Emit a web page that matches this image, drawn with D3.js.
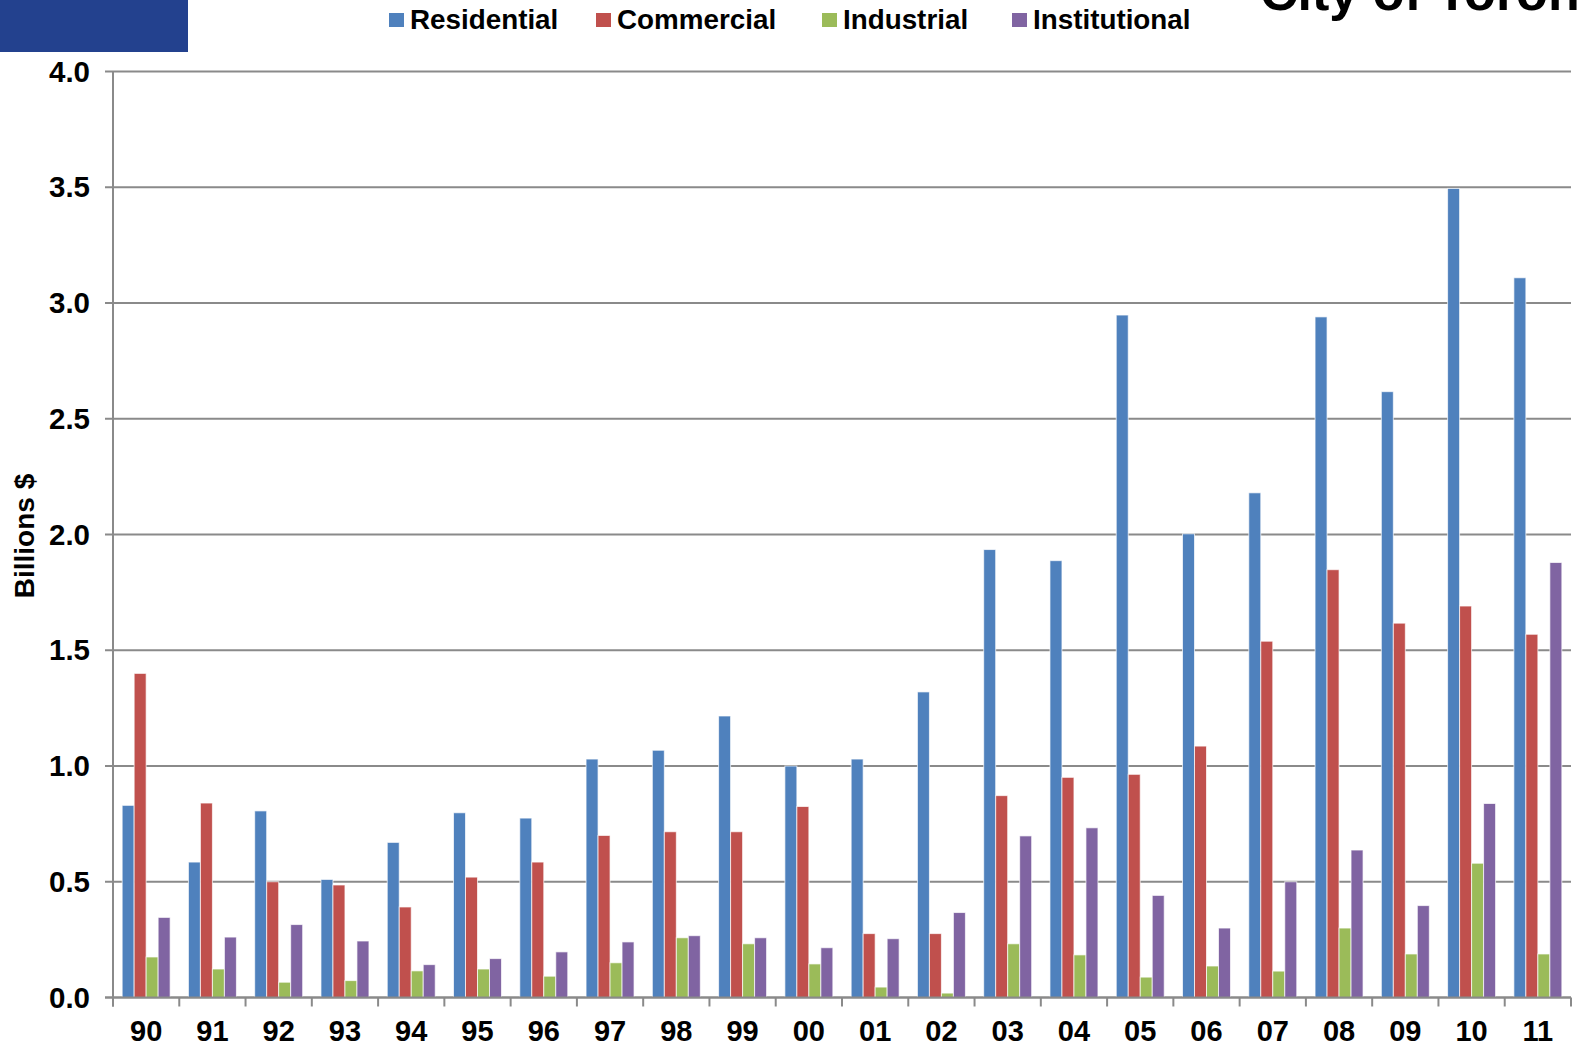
<!DOCTYPE html>
<html>
<head>
<meta charset="utf-8">
<script src="https://cdnjs.cloudflare.com/ajax/libs/d3/7.8.5/d3.min.js"></script>
<style>
	body { margin: 0; background: #fff; overflow: hidden; }
	svg { display: block; }
	text { font-family: "Liberation Sans", Arial, Helvetica, sans-serif; font-weight: bold; fill: #000; }
</style>
</head>
<body>
<script>
(function(){
	//categories (years) and series
	var years = ["90","91","92","93","94","95","96","97","98","99","00","01","02","03","04","05","06","07","08","09","10","11"];
	var seriesNames = ["Residential", "Commercial", "Industrial", "Institutional"];

	//values in billions $
	var residential = [0.83, 0.585, 0.806, 0.51, 0.67, 0.798, 0.775, 1.03, 1.068, 1.216, 1.0, 1.03, 1.32, 1.935, 1.887, 2.948, 2.003, 2.18, 2.94, 2.617, 3.495, 3.109];
	var commercial = [1.40, 0.84, 0.50, 0.486, 0.391, 0.52, 0.585, 0.70, 0.716, 0.716, 0.825, 0.276, 0.276, 0.872, 0.951, 0.964, 1.086, 1.539, 1.848, 1.617, 1.691, 1.569];
	var industrial = [0.175, 0.123, 0.066, 0.073, 0.115, 0.123, 0.092, 0.15, 0.258, 0.232, 0.145, 0.045, 0.019, 0.232, 0.184, 0.088, 0.136, 0.114, 0.30, 0.188, 0.58, 0.188];
	var institutional = [0.346, 0.261, 0.315, 0.244, 0.142, 0.168, 0.197, 0.24, 0.267, 0.258, 0.215, 0.254, 0.367, 0.698, 0.733, 0.441, 0.30, 0.50, 0.637, 0.397, 0.838, 1.879];

	var yTicks = [0, 0.5, 1.0, 1.5, 2.0, 2.5, 3.0, 3.5, 4.0];

	var colors = ["#4F81BD", "#C0504D", "#9BBB59", "#8064A2"];

	//frame
	var width = 1581,
		height = 1044,
		plotLeft = 113,
		plotRight = 1571,
		plotTop = 71.5,
		plotBottom = 997.5;

	var svg = d3.select("body")
		.append("svg")
		.attr("width", width)
		.attr("height", height);

	//header block and cut-off title
	svg.append("rect")
		.attr("x", 0)
		.attr("y", 0)
		.attr("width", 188)
		.attr("height", 52)
		.style("fill", "#23418E");

	svg.append("text")
		.attr("x", 1260)
		.attr("y", 10)
		.style("font-size", "52px")
		.text("City of Toronto");

	var yScale = d3.scaleLinear()
		.domain([0, 4])
		.range([plotBottom, plotTop]);

	var x0 = d3.scaleBand()
		.domain(years)
		.range([plotLeft, plotRight])
		.paddingInner(0.276)
		.paddingOuter(0.138);

	var x1 = d3.scaleBand()
		.domain(seriesNames)
		.range([0, x0.bandwidth()]);

	//gridlines + y tick labels
	var grid = svg.append("g").attr("class", "grid");
	grid.selectAll("line")
		.data(yTicks)
		.enter()
		.append("line")
		.attr("x1", plotLeft - 8)
		.attr("x2", plotRight)
		.attr("y1", function(d){ return yScale(d); })
		.attr("y2", function(d){ return yScale(d); })
		.style("stroke", "#8a8a8a")
		.style("stroke-width", 2);

	grid.selectAll("text")
		.data(yTicks)
		.enter()
		.append("text")
		.attr("x", 90)
		.attr("y", function(d){ return yScale(d) + 10; })
		.attr("text-anchor", "end")
		.style("font-size", "29.5px")
		.text(d3.format(".1f"));

	//bars
	var table = years.map(function(y, i){
		return { year: y, values: [residential[i], commercial[i], industrial[i], institutional[i]] };
	});

	var groups = svg.selectAll(".yearGroup")
		.data(table)
		.enter()
		.append("g")
		.attr("class", "yearGroup")
		.attr("transform", function(d){ return "translate(" + x0(d.year) + ",0)"; });

	groups.selectAll("rect")
		.data(function(d){
			return d.values.map(function(v, j){ return { name: seriesNames[j], value: v, idx: j }; });
		})
		.enter()
		.append("rect")
		.attr("x", function(d){ return x1(d.name); })
		.attr("width", x1.bandwidth())
		.attr("y", function(d){ return yScale(d.value); })
		.attr("height", function(d){ return plotBottom - yScale(d.value); })
		.style("fill", function(d){ return colors[d.idx]; })
		.style("stroke", "rgba(255,255,255,0.7)")
		.style("stroke-width", 1);

	//axes lines
	svg.append("line")
		.attr("x1", plotLeft)
		.attr("x2", plotLeft)
		.attr("y1", plotTop)
		.attr("y2", plotBottom + 9)
		.style("stroke", "#8a8a8a")
		.style("stroke-width", 2);

	svg.append("line")
		.attr("x1", plotLeft - 8)
		.attr("x2", plotRight)
		.attr("y1", plotBottom)
		.attr("y2", plotBottom)
		.style("stroke", "#8a8a8a")
		.style("stroke-width", 2);

	//category boundary ticks
	var step = x0.step();
	svg.selectAll(".xTick")
		.data(d3.range(years.length + 1))
		.enter()
		.append("line")
		.attr("class", "xTick")
		.attr("x1", function(i){ return plotLeft + i * step; })
		.attr("x2", function(i){ return plotLeft + i * step; })
		.attr("y1", plotBottom)
		.attr("y2", plotBottom + 9)
		.style("stroke", "#8a8a8a")
		.style("stroke-width", 2);

	svg.selectAll(".xLabel")
		.data(years)
		.enter()
		.append("text")
		.attr("class", "xLabel")
		.attr("x", function(d){ return x0(d) + x0.bandwidth() / 2; })
		.attr("y", 1040.5)
		.attr("text-anchor", "middle")
		.style("font-size", "29px")
		.text(function(d){ return d; });

	//y axis title
	svg.append("text")
		.attr("transform", "translate(34,536) rotate(-90)")
		.attr("text-anchor", "middle")
		.style("font-size", "28px")
		.text("Billions $");

	//legend
	var legendX = [389, 596, 822, 1012];
	var legend = svg.selectAll(".legendItem")
		.data(seriesNames)
		.enter()
		.append("g")
		.attr("class", "legendItem")
		.attr("transform", function(d, i){ return "translate(" + legendX[i] + ",0)"; });

	legend.append("rect")
		.attr("x", 0)
		.attr("y", 13)
		.attr("width", 15)
		.attr("height", 14)
		.style("fill", function(d, i){ return colors[i]; });

	legend.append("text")
		.attr("x", 21)
		.attr("y", 29)
		.style("font-size", "27.8px")
		.text(function(d){ return d; });
})();
</script>
</body>
</html>
